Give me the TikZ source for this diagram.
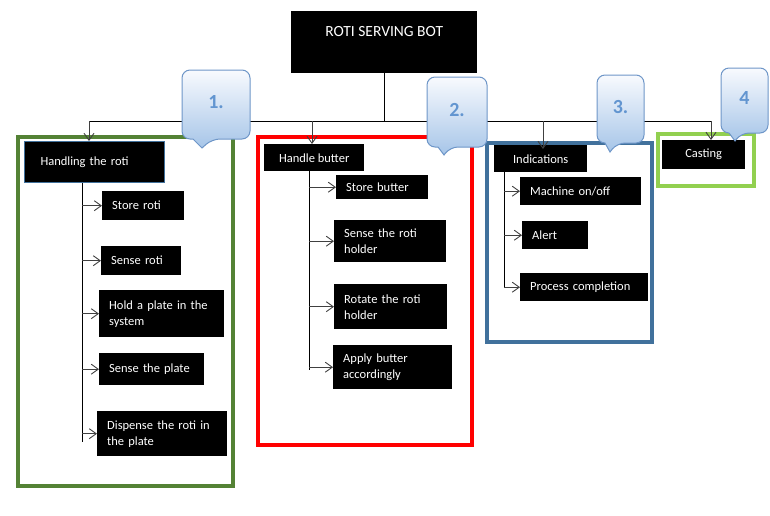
\documentclass[tikz,border=0pt]{standalone}
\usepackage{fontspec}
\setmainfont{Carlito}
\usetikzlibrary{arrows.meta}
\definecolor{gA}{RGB}{84,130,53}
\definecolor{rB}{RGB}{255,0,0}
\definecolor{bC}{RGB}{65,113,156}
\definecolor{gD}{RGB}{146,208,80}
\definecolor{calTop}{RGB}{248,250,254}
\definecolor{calBot}{RGB}{166,197,232}
\definecolor{calLine}{RGB}{110,150,200}
\definecolor{numCol}{RGB}{98,149,208}
\newcommand{\calbox}[9]{%
  % #1 x1, #2 y1, #3 x2, #4 y2, #5 base left, #6 base right, #7 tip x, #8 tip y, #9 name
  \path[cal] ({(#1+#3)/2},#2) [rounded corners=8pt] -- (#3,#2) -- (#3,#4) -- (#6,#4) [sharp corners] -- (#7,#8) -- (#5,#4) [rounded corners=8pt] -- (#1,#4) -- (#1,#2) -- cycle;
  \coordinate (#9) at ({(#1+#3)/2},{(#2+#4)/2});
}
\begin{document}
\begin{tikzpicture}[x=1pt,y=-1pt,
  blk/.style={fill=black,text=white,inner sep=0pt,font=\fontsize{12.5}{16}\selectfont},
  kid/.style={blk,align=left,inner xsep=10pt,anchor=north west},
  head/.style={blk,align=center,anchor=north west},
  frame/.style={line width=4pt},
  conn/.style={line width=0.9pt,black},
  arr/.style={line width=0.9pt,black!75,-{Straight Barb[length=7pt,width=10pt]}},
  cal/.style={draw=calLine,line width=1pt,top color=calTop,bottom color=calBot},
  num/.style={font=\fontsize{20}{24}\bfseries,text=numCol,inner sep=0pt}]
\useasboundingbox (0,0) rectangle (770,515);

% group frames
\draw[frame,gA] (18,137) rectangle (233,486);
\draw[frame,rB] (258,137) rectangle (472,445);
\draw[frame,bC] (487,143) rectangle (652,342);
\draw[frame,gD] (658,134) rectangle (754,186);

% title
\node[head,minimum width=186pt,minimum height=62pt,text height=11pt,text depth=23pt,
  font=\fontsize{15.5}{18}\selectfont] (title) at (291,11) {ROTI SERVING BOT};

% heads
\node[blk,anchor=north west,align=left,inner xsep=16pt,inner ysep=0pt,text width=108pt,
  minimum height=41pt,draw=bC,line width=1pt] (h1) at (24,141) {Handling the roti};
\node[head,minimum width=100pt,minimum height=27pt] (h2) at (264,144) {Handle butter};
\node[head,minimum width=93pt,minimum height=27pt] (h3) at (494,145) {Indications};
\node[head,minimum width=83pt,minimum height=29pt] (h4) at (662,140) {Casting};

% group 1 items
\node[kid,text width=62pt,minimum height=29pt] (a1) at (102,191) {Store roti};
\node[kid,text width=60pt,minimum height=29pt] (a2) at (101,246) {Sense roti};
\node[kid,text width=105pt,minimum height=47pt] (a3) at (99,290) {Hold a plate in the\\system};
\node[kid,text width=85pt,minimum height=32pt] (a4) at (99,353) {Sense the plate};
\node[kid,text width=110pt,minimum height=45pt] (a5) at (97,411) {Dispense the roti in\\the plate};

% group 2 items
\node[kid,text width=72pt,minimum height=24pt] (b1) at (336,175) {Store butter};
\node[kid,text width=92pt,minimum height=42pt] (b2) at (334,220) {Sense the roti\\holder};
\node[kid,text width=93pt,minimum height=45pt] (b3) at (334,284) {Rotate the roti\\holder};
\node[kid,text width=99pt,minimum height=44pt] (b4) at (333,345) {Apply butter\\accordingly};

% group 3 items
\node[kid,text width=101pt,minimum height=28pt] (c1) at (520,177) {Machine on/off};
\node[kid,text width=46pt,minimum height=28pt] (c2) at (522,221) {Alert};
\node[kid,text width=108pt,minimum height=28pt] (c3) at (520,273) {Process completion};

% bus
\coordinate (bj) at (title.south |- 0,121);
\coordinate (bL) at (89,121);
\coordinate (bM) at (312,121);
\coordinate (bN) at (543,121);
\coordinate (bR) at (711,121);
\draw[conn] (title.south) -- (bj);
\draw[conn] (bL) -- (bR);
\draw[arr] (bL) -- (bL |- h1.north);
\draw[arr] (bM) -- (bM |- h2.north);
\draw[arr] (bN) -- ([yshift=-4pt]bN |- h3.north);
\draw[arr] (bR) -- (bR |- h4.north);

% spines
\coordinate (v1) at (82,442);
\coordinate (v2) at (309,370);
\coordinate (v3) at (504,287);
\draw[conn] (v1 |- h1.south) -- (v1);
\draw[conn] (v2 |- h2.south) -- (v2);
\draw[conn] (v3 |- h3.south) -- (v3);
\foreach \n in {a1,a2,a3,a4,a5} \draw[arr] (v1 |- \n.west) -- (\n.west);
\foreach \n in {b1,b2,b3,b4} \draw[arr] (v2 |- \n.west) -- (\n.west);
\foreach \n in {c1,c2,c3} \draw[arr] (v3 |- \n.west) -- (\n.west);

% callouts
\calbox{182}{70}{250}{139}{193}{212}{202}{148}{k1}
\calbox{427}{77}{487}{147}{438}{450}{444}{155}{k2}
\calbox{597}{75}{644}{143}{605}{617}{610}{152}{k3}
\calbox{721}{68}{768}{133}{729}{741}{735}{141}{k4}
\node[num] (n1) at ([yshift=2pt]k1) {1.};
\node[num] (n2) at ([yshift=2pt]k2) {2.};
\node[num] (n3) at ([yshift=2pt]k3) {3.};
\node[num] (n4) at ([yshift=2pt]k4) {4};
\end{tikzpicture}
\end{document}
